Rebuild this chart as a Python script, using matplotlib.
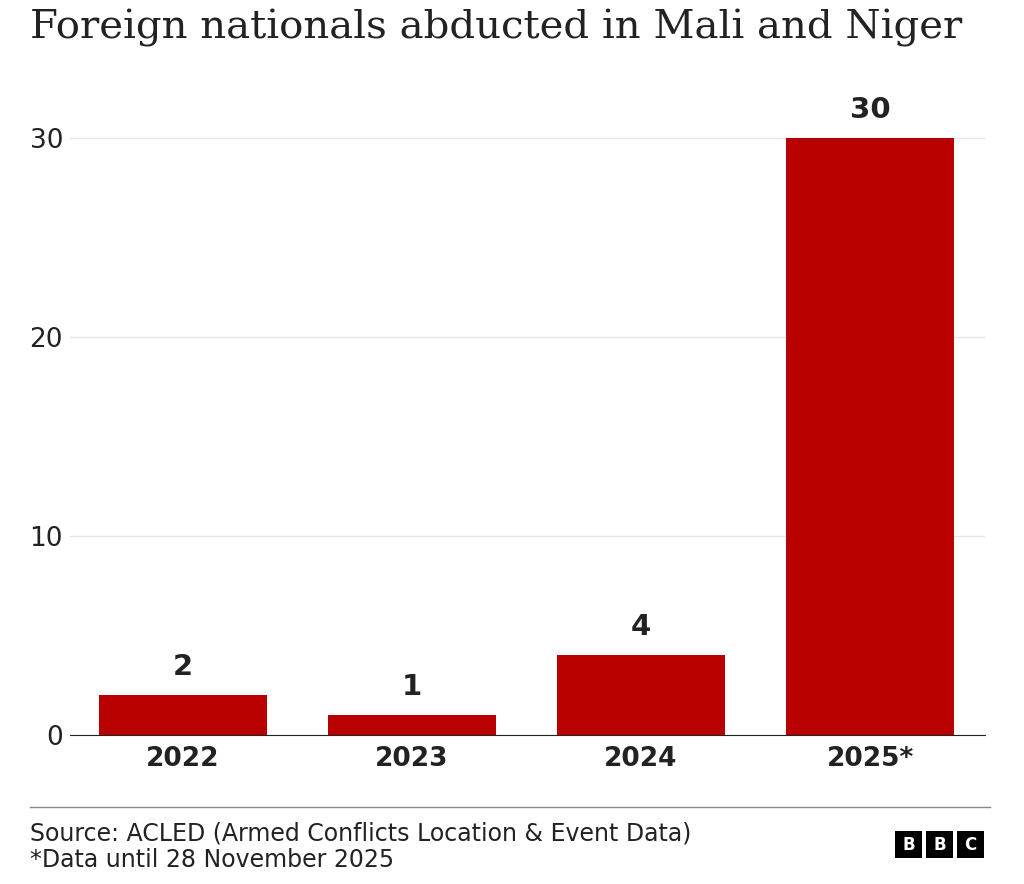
import matplotlib
matplotlib.use("Agg")
import matplotlib.pyplot as plt
from matplotlib.patches import Rectangle
from matplotlib.lines import Line2D

years = ["2022", "2023", "2024", "2025*"]
abducted = [2, 1, 4, 30]
yticks = [0, 10, 20, 30]

W, H = 1024, 884
fig = plt.figure(figsize=(W / 100, H / 100), dpi=100)
fig.patch.set_facecolor("white")

ax = fig.add_axes([70 / W, 1 - 735 / H, 915 / W, (735 - 98) / H])
x = range(len(years))
ax.bar(x, abducted, width=0.73, color="#b80000", zorder=3)
ax.set_xlim(-0.493, 3.502)
ax.set_ylim(0, 32)
ax.set_yticks(yticks)
ax.set_yticklabels([str(t) for t in yticks], fontsize=19, color="#222222")
ax.set_xticks(list(x))
ax.set_xticklabels(years, fontsize=19, fontweight="bold", color="#222222")
ax.tick_params(axis="x", length=0, pad=8)
ax.tick_params(axis="y", length=0, pad=5)
ax.grid(axis="y", color="#e6e6e6", linewidth=1, zorder=0)
for s in ["top", "right", "left"]:
    ax.spines[s].set_visible(False)
ax.spines["bottom"].set_color("#222222")
ax.spines["bottom"].set_zorder(4)
for xi, v in zip(x, abducted):
    ax.text(xi, v + 0.7, str(v), ha="center", va="bottom", fontsize=21,
            fontweight="bold", color="#222222")

fig.text(30 / W, 1 - 28 / H, "Foreign nationals abducted in Mali and Niger",
         fontsize=29, family="DejaVu Serif", color="#222222", va="center", ha="left")

fig.add_artist(Line2D([30 / W, 990 / W], [1 - 807 / H, 1 - 807 / H],
                      color="#888888", linewidth=1, transform=fig.transFigure))
fig.text(30 / W, 1 - 833 / H, "Source: ACLED (Armed Conflicts Location & Event Data)",
         fontsize=17, color="#222222", va="center")
fig.text(30 / W, 1 - 860 / H, "*Data until 28 November 2025",
         fontsize=17, color="#222222", va="center")

for i, letter in enumerate("BBC"):
    x0 = 895 + i * 31
    fig.add_artist(Rectangle((x0 / W, 1 - 858 / H), 27 / W, 27 / H,
                             facecolor="black", transform=fig.transFigure))
    fig.text((x0 + 13.5) / W, 1 - 844.5 / H, letter, color="white", fontsize=12,
             fontweight="bold", ha="center", va="center")

fig.savefig("out.png", dpi=100)
